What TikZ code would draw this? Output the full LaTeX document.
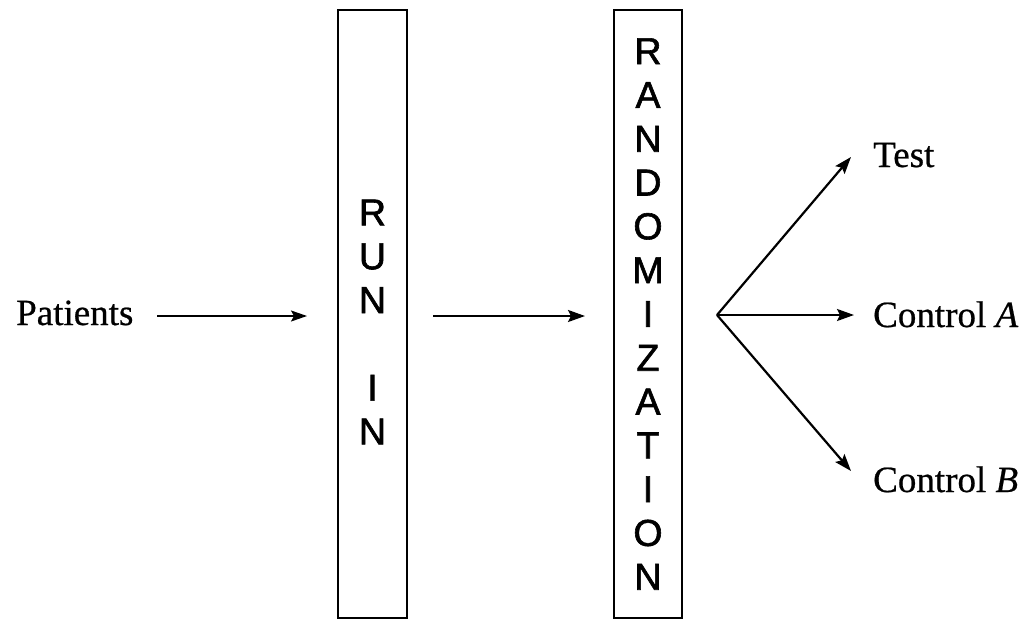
\documentclass[tikz,border=0pt]{standalone}
\usepackage{fontspec}
\setmainfont{Liberation Serif}[FakeBold=0.6]
\newfontfamily\boxfont{Liberation Sans}[FakeBold=1.6]
\usetikzlibrary{arrows.meta}
\tikzset{
  tallbox/.style={draw, line width=2.2pt, inner sep=0pt, minimum width=68.5pt, minimum height=607.5pt},
  vtext/.style={inner sep=0pt, align=center, font=\boxfont\fontsize{37.5}{43.8}\selectfont},
  lbl/.style={inner sep=0pt, anchor=base west, font=\fontsize{37}{43}\selectfont},
  arr/.style={line width=2.2pt, -{Stealth[length=17pt,width=12pt,inset=3pt]}},
  thinarr/.style={line width=1.6pt, -{Stealth[length=16pt,width=11pt,inset=3pt]}}
}
\begin{document}
\begin{tikzpicture}[x=1pt,y=-1pt]
\useasboundingbox (0,0) rectangle (1026,621);
% boxes
\node[tallbox] (run) at (372.5,314) {};
\node[tallbox] (rand) at (648,314) {};
\node[vtext] (runtxt) at (372.5,322) {R\\U\\N\\[43.8pt]I\\N};
\node[vtext] (randtxt) at (648,314) {R\\A\\N\\D\\O\\M\\I\\Z\\A\\T\\I\\O\\N};
% labels
\node[lbl] (pat) at (16,325) {Patients};
\node[lbl] (test) at (873,167) {Test};
\node[lbl] (ca) at (873,327) {Control \textit{A}};
\node[lbl] (cb) at (873,492) {Control \textit{B}};
% connector ends
\coordinate (p1) at (157,316);
\coordinate (p2) at (307,316);
\coordinate (m1) at (433,316);
\coordinate (m2) at (585,316);
\coordinate (fan) at (717,315);
\coordinate (tT) at (851,157);
\coordinate (tA) at (854,315);
\coordinate (tB) at (851,471);
% connectors
\draw[thinarr] (p1) -- (p2);
\draw[arr] (m1) -- (m2);
\draw[arr] (fan) -- (tT);
\draw[arr] (fan) -- (tA);
\draw[arr] (fan) -- (tB);
\end{tikzpicture}
\end{document}
